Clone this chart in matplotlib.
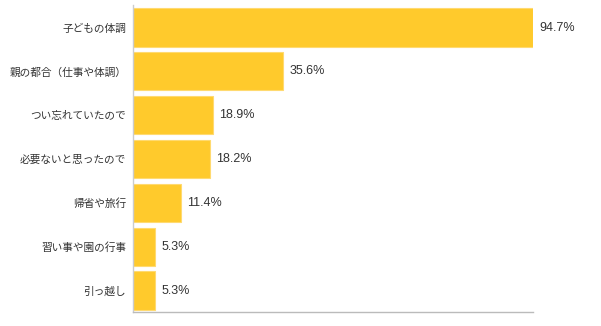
import matplotlib
matplotlib.use('Agg')
import matplotlib.pyplot as plt

plt.rcParams['font.family'] = ['Noto Sans CJK JP', 'DejaVu Sans']

categories = ['子どもの体調', '親の都合（仕事や体調）', 'つい忘れていたので',
              '必要ないと思ったので', '帰省や旅行', '習い事や園の行事', '引っ越し']
values = [94.7, 35.6, 18.9, 18.2, 11.4, 5.3, 5.3]
value_labels = ['94.7%', '35.6%', '18.9%', '18.2%', '11.4%', '5.3%', '5.3%']

fig = plt.figure(figsize=(6.01, 3.26), dpi=100)
ax = fig.add_axes([133 / 601, 14 / 326, 400 / 601, 307 / 326])

y = list(range(len(categories)))
ax.barh(y, values, height=0.87, color='#FFCA2C', edgecolor='#FFDA70', linewidth=0.8)
ax.set_ylim(6.49, -0.514)
ax.set_xlim(0, max(values))

ax.set_yticks(y)
ax.set_yticklabels(categories, fontsize=7.7, color='#333333')
ax.tick_params(axis='y', length=0, pad=5)
ax.set_xticks([])

for yi, v, lab in zip(y, values, value_labels):
    ax.text(v + 1.5, yi, lab, va='center', ha='left', fontsize=9,
            color='#333333', family=['Liberation Sans', 'DejaVu Sans'])

for side in ['top', 'right']:
    ax.spines[side].set_visible(False)
ax.spines['left'].set_color('#cccccc')
ax.spines['bottom'].set_color('#bbbbbb')
ax.spines['left'].set_linewidth(1)
ax.spines['bottom'].set_linewidth(1)

fig.savefig('out.png', dpi=100)
